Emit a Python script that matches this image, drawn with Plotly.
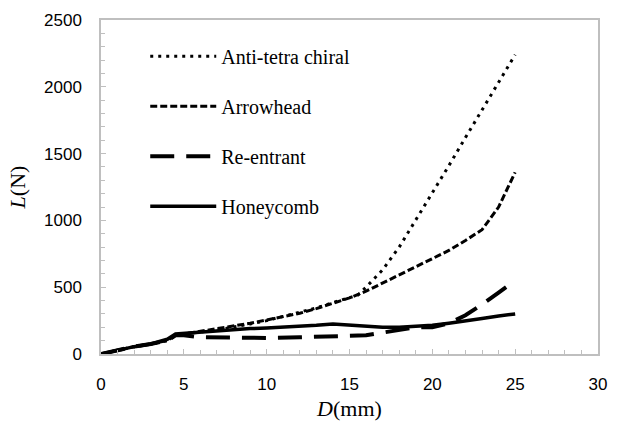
import plotly.graph_objects as go

# Displacement D (mm) and load L (N)
anti_x = [0, 1, 2, 3, 4, 4.5, 5, 6, 7, 8, 9, 10, 11, 12, 13, 14, 15, 15.5, 16, 17, 18, 19, 20, 21, 22, 23, 24, 25]
anti_y = [0, 30, 55, 75, 100, 140, 150, 165, 180, 200, 225, 250, 280, 310, 345, 385, 420, 440, 500, 630, 800, 1000, 1210, 1410, 1620, 1830, 2030, 2240]

arrow_x = [0, 1, 2, 3, 4, 4.5, 5, 6, 7, 8, 9, 10, 11, 12, 13, 14, 15, 16, 17, 18, 19, 20, 21, 22, 23, 24, 25]
arrow_y = [0, 30, 55, 75, 100, 140, 150, 165, 185, 205, 230, 255, 280, 305, 340, 380, 420, 470, 530, 590, 650, 710, 775, 850, 930, 1100, 1360]

reent_x = [0, 1, 2, 3, 4, 4.5, 5, 6, 8, 10, 12, 14, 16, 17, 18, 19, 20, 21, 22, 23, 24, 25]
reent_y = [0, 30, 55, 75, 100, 140, 140, 125, 120, 120, 125, 130, 140, 160, 180, 200, 200, 230, 290, 370, 460, 550]

honey_x = [0, 1, 2, 3, 4, 4.5, 5, 6, 7, 8, 9, 10, 11, 12, 13, 14, 15, 16, 17, 18, 19, 20, 21, 22, 23, 24, 25]
honey_y = [0, 30, 55, 75, 110, 150, 155, 165, 175, 185, 190, 195, 200, 205, 215, 225, 215, 205, 200, 200, 205, 215, 230, 245, 265, 285, 300]

names = ["Anti-tetra chiral", "Arrowhead", "Re-entrant", "Honeycomb"]
xs = [anti_x, arrow_x, reent_x, honey_x]
ys = [anti_y, arrow_y, reent_y, honey_y]
dashes = ["3px,5px", "7px,3px", "24px,12px", "solid"]
widths = [3, 3, 4, 3.5]

x_ticks = [0, 5, 10, 15, 20, 25, 30]
y_ticks = [0, 500, 1000, 1500, 2000, 2500]

fig = go.Figure()
for i in range(4):
    fig.add_trace(go.Scatter(
        x=xs[i], y=ys[i], mode="lines", name=names[i],
        legendgroup=names[i],
        line=dict(color="black", width=widths[i], dash=dashes[i]),
    ))

axis_common = dict(
    showline=True, mirror=True, linecolor="#bfbfbf", linewidth=1.5,
    showgrid=False, zeroline=False,
    ticks="inside", ticklen=5, tickcolor="#bfbfbf", tickwidth=1,
    tickfont=dict(family="Liberation Sans", size=17, color="black"),
)

fig.update_layout(
    width=618, height=434,
    margin=dict(l=101, r=11, t=17, b=80),
    paper_bgcolor="white", plot_bgcolor="white",
    showlegend=True,
    legend=dict(
        x=0.089, y=0.95, xanchor="left", yanchor="top",
        bgcolor="rgba(0,0,0,0)",
        font=dict(family="Liberation Serif", size=20, color="black"),
        traceorder="grouped", tracegroupgap=21, itemwidth=66,
    ),
    xaxis=dict(
        range=[0, 30], tickvals=x_ticks, ticktext=[str(v) for v in x_ticks],
        minor=dict(dtick=1, ticks="inside", ticklen=4, tickcolor="#bfbfbf"),
        ticklabelstandoff=14,
        title=dict(text="<i>D</i>(mm)", font=dict(family="Liberation Serif", size=22, color="black"), standoff=7),
        **axis_common,
    ),
    yaxis=dict(
        range=[0, 2500], tickvals=y_ticks, ticktext=[str(v) for v in y_ticks],
        minor=dict(dtick=100, ticks="inside", ticklen=4, tickcolor="#bfbfbf"),
        ticklabelstandoff=14,
        title=dict(text="<i>L</i>(N)", font=dict(family="Liberation Serif", size=22, color="black"), standoff=12),
        **axis_common,
    ),
)

fig.write_html("out.html")
